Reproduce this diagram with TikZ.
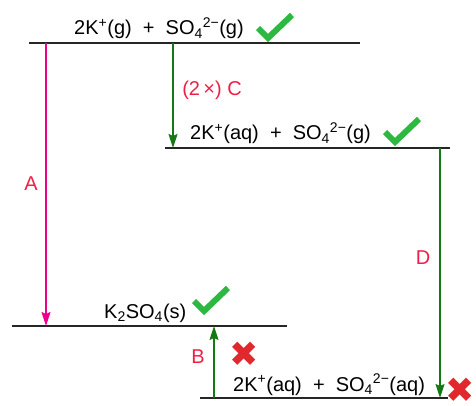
\documentclass[tikz,border=0pt]{standalone}
\usepackage{fontspec}
\setmainfont{Liberation Sans}
\newfontfamily\symfont{DejaVu Sans}
\usepackage{tikz}
\usetikzlibrary{arrows.meta}
\definecolor{tickgreen}{RGB}{45,185,65}
\definecolor{crossred}{RGB}{225,40,45}
\definecolor{arrgreen}{RGB}{20,120,20}
\definecolor{labred}{RGB}{240,30,70}
\newcommand{\no}{{\symfont\color{crossred}\char"2716}}
\newcommand{\sulf}{SO\textsubscript{4}\textsuperscript{2−}}

\begin{document}
\begin{tikzpicture}[x=1pt, y=-1pt, font=\fontsize{20}{24}\selectfont,
  >={Stealth[length=14pt, width=9pt, inset=2pt]},
  level/.style={line width=1.4pt, black!85},
  chem/.style={inner sep=0pt, anchor=base west},
  signmark/.style={inner sep=0pt, font=\fontsize{35}{36}\selectfont},
  tick/.pic={\draw[tickgreen, line width=6pt, line join=miter]
    (-17,1) -- (-7,11) -- (17,-12);},
  lab/.style={text=labred, inner sep=1pt},
  stepA/.style={->, line width=1.3pt, magenta},
  stepG/.style={->, line width=1.3pt, arrgreen}]
\useasboundingbox (0,0) rectangle (476,406);
% energy levels
\coordinate (gasL) at (29,43);  \coordinate (gasR) at (360,43);
\coordinate (hydL) at (165,148); \coordinate (hydR) at (450,148);
\coordinate (solL) at (12,326); \coordinate (solR) at (287,326);
\coordinate (aqL) at (200,398); \coordinate (aqR) at (448,398);
\draw[level] (gasL) -- (gasR);
\draw[level] (hydL) -- (hydR);
\draw[level] (solL) -- (solR);
\draw[level] (aqL) -- (aqR);
\node[chem] (gas) at (74,35) {2K\textsuperscript{+}(g)\ \ +\ \ \sulf(g)};
\node[chem] (hyd) at (190,140) {2K\textsuperscript{+}(aq)\ \ +\ \ \sulf(g)};
\node[chem] (sol) at (104,318) {K\textsubscript{2}SO\textsubscript{4}(s)};
\node[chem] (aq) at (233,391) {2K\textsuperscript{+}(aq)\ \ +\ \ \sulf(aq)};
\pic at (275,27) {tick};
\pic at (402,131) {tick};
\pic at (211,300) {tick};
\node[signmark] (noB) at (244,354) {\no};
\node[signmark] (noaq) at (460,390) {\no};
% steps
\coordinate (a1) at (46,43);   \coordinate (a2) at (46,326);
\coordinate (c1) at (173,43);  \coordinate (c2) at (173,148);
\coordinate (d1) at (440,148); \coordinate (d2) at (440,398);
\coordinate (b1) at (214,398); \coordinate (b2) at (214,326);
\draw[stepA] (a1) -- (a2);
\draw[stepG] (c1) -- (c2);
\draw[stepG] (d1) -- (d2);
\draw[stepG] (b1) -- (b2);
\node[lab] (labA) at (31,184) {A};
\node[lab] (labC) at (212,90) {(2\,×) C};
\node[lab] (labD) at (423,258) {D};
\node[lab] (labB) at (198,357) {B};
\end{tikzpicture}
\end{document}
